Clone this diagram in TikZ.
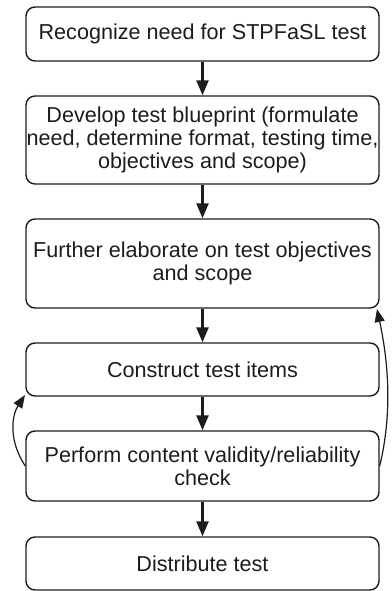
\documentclass[tikz,border=0pt]{standalone}
\usepackage{fontspec}
\setmainfont{Liberation Sans}
\usetikzlibrary{arrows.meta}
\definecolor{ink}{HTML}{1E1B1C}
\begin{document}
\begin{tikzpicture}[x=1pt,y=-1pt,
  box/.style={draw=ink, line width=1.4pt, rounded corners=9pt, minimum width=353pt,
    align=center, text=ink, inner sep=0pt,
    font=\fontsize{21.6pt}{23pt}\selectfont},
  flow/.style={draw=ink, line width=2.5pt, -{Triangle[length=15pt,width=12pt]}},
  fb/.style={draw=ink, line width=1.2pt, -{Triangle[length=13pt,width=10pt]}}]
\useasboundingbox (0,0) rectangle (391,591);
\node[box, minimum height=54pt] (b1) at (202.5,34) {Recognize need for STPFaSL test};
\node[box, minimum height=88pt] (b2) at (202.5,140) {Develop test blueprint (formulate\\need, determine format, testing time,\\objectives and scope)};
\node[box, minimum height=89pt] (b3) at (202.5,263.5) {Further elaborate on test objectives\\and scope};
\node[box, minimum height=53pt] (b4) at (202.5,369.5) {Construct test items};
\node[box, minimum height=70pt] (b5) at (202.5,466) {Perform content validity/reliability\\check};
\node[box, minimum height=53pt] (b6) at (202.5,563.5) {Distribute test};
\draw[flow] (b1) -- (b2);
\draw[flow] (b2) -- (b3);
\draw[flow] (b3) -- (b4);
\draw[flow] (b4) -- (b5);
\draw[flow] (b5) -- (b6);
\coordinate (lt) at (25,395);
\coordinate (rt) at (377,309);
\draw[fb] (b5.west) .. controls (8,440) and (12,415) .. (lt);
\draw[fb] (b5.east) .. controls (392,415) and (389,365) .. (rt);
\end{tikzpicture}
\end{document}
